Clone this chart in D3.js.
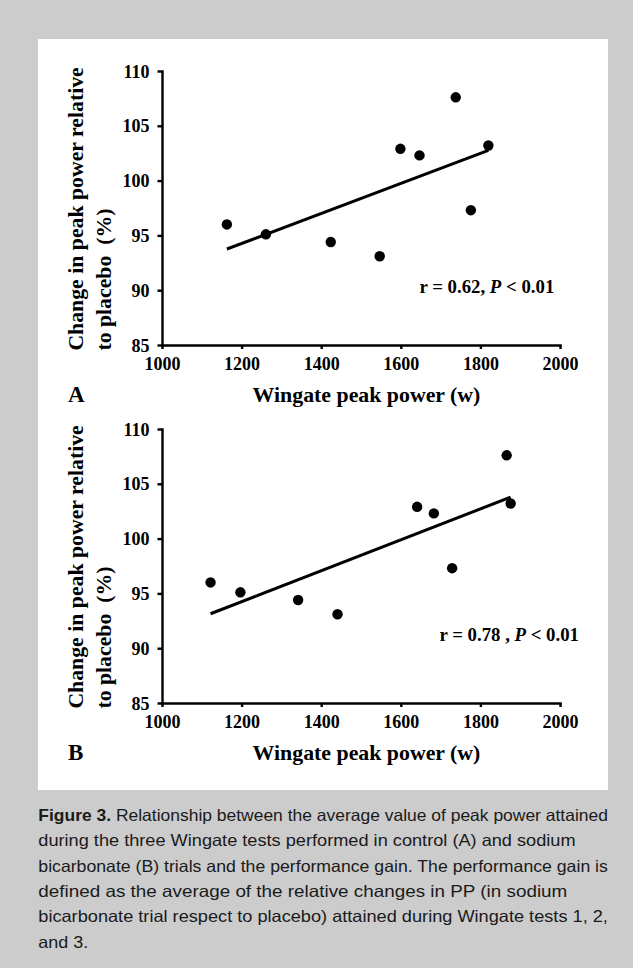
<!DOCTYPE html>
<html>
<head>
<meta charset="utf-8">
<title>Figure 3</title>
<style>
body { margin: 0; background: #cccccc; }
.tick text, .lbl { font-family: "Liberation Serif", "Times New Roman", serif; font-weight: bold; fill: #000; }
.lbl { white-space: pre; }
.domain, .tick line { stroke: #000; stroke-width: 2.4px; }
.cap { font-family: "Liberation Sans Narrow", "Liberation Sans", Arial, sans-serif; font-size: 16.5px; fill: #1a1a1a; white-space: pre; }
</style>
</head>
<body>
<script src="https://cdn.jsdelivr.net/npm/d3@7"></script>
<script>

// performance gain (% of placebo), same subjects in both panels
var gain = [96.0, 95.1, 94.4, 93.1, 102.9, 102.3, 107.6, 97.3, 103.2];
// Wingate peak power (w), control trial (A)
var powerA = [1163, 1261, 1424, 1547, 1599, 1647, 1738, 1776, 1820];
// Wingate peak power (w), bicarbonate trial (B)
var powerB = [1122, 1197, 1342, 1441, 1641, 1683, 1866, 1729, 1876];

var xTicks = [1000, 1200, 1400, 1600, 1800, 2000];
var yTicks = [85, 90, 95, 100, 105, 110];
var panelNames = ["A", "B"];
var stats = [["r = 0.62, ", "P", " < 0.01"], ["r = 0.78 , ", "P", " < 0.01"]];

var caption = [
  ["Figure 3.", " Relationship between the average value of peak power attained"],
  ["", "during the three Wingate tests performed in control (A) and sodium"],
  ["", "bicarbonate (B) trials and the performance gain. The performance gain is"],
  ["", "defined as the average of the relative changes in PP (in sodium"],
  ["", "bicarbonate trial respect to placebo) attained during Wingate tests 1, 2,"],
  ["", "and 3."]
];
var capWidths = [569.6, 537.3, 569.6, 529, 569.6, 50];

var width = 633, height = 968;

var svg = d3.select("body").append("svg")
    .attr("width", width)
    .attr("height", height);

svg.append("rect").attr("width", width).attr("height", height).attr("fill", "#cccccc");
svg.append("rect").attr("x", 38).attr("y", 39).attr("width", 570).attr("height", 751).attr("fill", "#fff");

var x = d3.scaleLinear().domain([1000, 2000]).range([162, 560]);

function fit(xs, ys) {
  var mx = d3.mean(xs), my = d3.mean(ys);
  var sxy = d3.sum(xs, function(v, i) { return (v - mx) * (ys[i] - my); });
  var sxx = d3.sum(xs, function(v) { return (v - mx) * (v - mx); });
  var b = sxy / sxx;
  return function(v) { return my + b * (v - mx); };
}

// pick a font size so the text is about as long as in the figure
function sizeTo(sel, target) {
  sel.style("font-size", "20px");
  var len = sel.node().getComputedTextLength();
  var fs = 20 * target / len;
  sel.style("font-size", fs + "px");
  return fs;
}

[powerA, powerB].forEach(function(power, p) {
  var off = p * 358;
  var y = d3.scaleLinear().domain([85, 110]).range([345 + off, 71 + off]);
  var g = svg.append("g");

  var pts = power.map(function(v, i) { return {x: v, y: gain[i]}; });

  // regression line
  var f = fit(power, gain);
  var x0 = d3.min(power), x1 = d3.max(power);
  g.append("line")
      .attr("x1", x(x0)).attr("y1", y(f(x0)))
      .attr("x2", x(x1)).attr("y2", y(f(x1)))
      .attr("stroke", "#000").attr("stroke-width", 3);

  g.selectAll("circle").data(pts).enter().append("circle")
      .attr("cx", function(d) { return x(d.x); })
      .attr("cy", function(d) { return y(d.y); })
      .attr("r", 5.2)
      .attr("fill", "#000");

  var xa = g.append("g")
      .attr("transform", "translate(0," + (345 + off) + ")")
      .call(d3.axisBottom(x).tickValues(xTicks).tickFormat(d3.format("d")).tickSize(4).tickSizeOuter(0));
  xa.selectAll(".tick text").attr("y", 25).attr("dy", null).style("font-size", "18px");

  var ya = g.append("g")
      .attr("transform", "translate(162,0)")
      .call(d3.axisLeft(y).tickValues(yTicks).tickFormat(d3.format("d")).tickSize(4.5).tickSizeOuter(0));
  ya.selectAll(".tick text").attr("x", -12.5).attr("dy", "0.34em").style("font-size", "18px");
  g.selectAll(".domain").attr("stroke-linecap", "square");
  g.selectAll("text").attr("font-family", null);

  // y title, two lines
  var t1 = g.append("text").attr("class", "lbl")
      .attr("transform", "translate(83," + (350.6 + off) + ") rotate(-90)")
      .text("Change in peak power relative");
  var fs = sizeTo(t1, 283.6);
  g.append("text").attr("class", "lbl")
      .attr("transform", "translate(111," + (350.6 + off) + ") rotate(-90)")
      .style("font-size", fs + "px")
      .text("to placebo  (%)");

  var xt = g.append("text").attr("class", "lbl")
      .attr("x", 366.5).attr("y", 402.4 + off)
      .attr("text-anchor", "middle")
      .text("Wingate peak power (w)");
  sizeTo(xt, 228);

  g.append("text").attr("class", "lbl")
      .attr("x", 68).attr("y", 402.4 + off)
      .style("font-size", "23px")
      .text(panelNames[p]);

  var st = g.append("text").attr("class", "lbl")
      .attr("x", p == 0 ? 419.5 : 439.5).attr("y", 293.3 + off + (p == 0 ? 0 : -10.8))
      .style("font-size", "18.8px");
  st.selectAll("tspan").data(stats[p]).enter().append("tspan")
      .style("font-style", function(d, i) { return i == 1 ? "italic" : null; })
      .text(function(d) { return d; });
});

var cap = svg.append("g");
caption.forEach(function(line, i) {
  var t = cap.append("text").attr("class", "cap")
      .attr("x", 38.3).attr("y", 821 + i * 25.3);
  t.attr("textLength", capWidths[i]).attr("lengthAdjust", "spacingAndGlyphs");
  if (line[0]) t.append("tspan").style("font-weight", "bold").style("font-family", "Liberation Sans, Arial, sans-serif").text(line[0]);
  t.append("tspan").text(line[1]);
});

</script>
</body>
</html>
